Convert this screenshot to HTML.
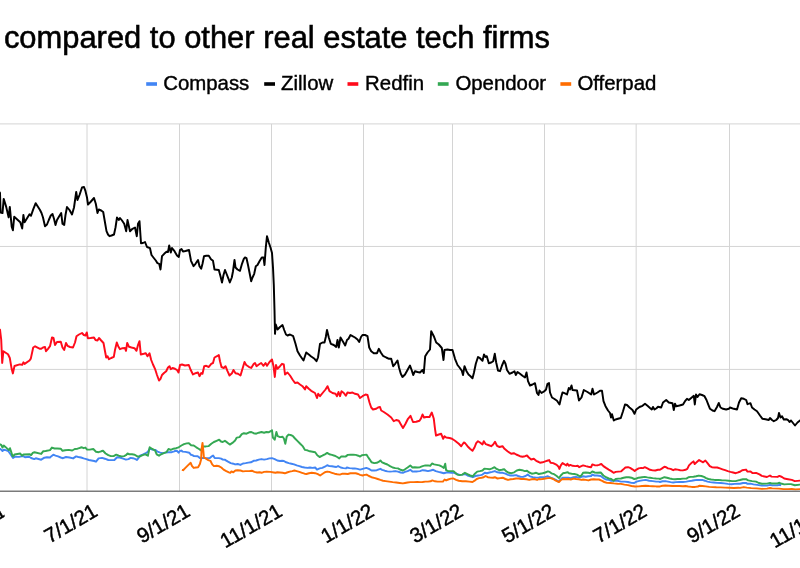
<!DOCTYPE html>
<html lang="en"><head><meta charset="utf-8"><title>Stock chart</title>
<style>
html,body{margin:0;padding:0;background:#fff;}
body{width:800px;height:568px;overflow:hidden;}
svg{display:block;}
text{font-family:"Liberation Sans",sans-serif;fill:#000;}
svg{will-change:transform;}
.grid line{stroke:#d4d4d4;stroke-width:1;}
.series path{fill:none;stroke-width:1.95;stroke-linejoin:round;stroke-linecap:butt;}
</style></head><body>
<svg width="800" height="568" viewBox="0 0 800 568">
<rect width="800" height="568" fill="#fff"/>
<text x="3.9" y="48.4" font-size="30.9" id="title" stroke="#000" stroke-width="0.55">compared to other real estate tech firms</text>
<g id="legend" font-size="20.4" stroke="#000" stroke-width="0.4">
<rect x="146.2" y="82.2" width="10.8" height="3.6" fill="#4285f4" stroke="none"/><text x="163.2" y="90.2">Compass</text>
<rect x="264.2" y="82.2" width="10.8" height="3.6" fill="#000000" stroke="none"/><text x="281.1" y="90.2">Zillow</text>
<rect x="347.5" y="82.2" width="10.8" height="3.6" fill="#ff0b1b" stroke="none"/><text x="365.1" y="90.2">Redfin</text>
<rect x="437.8" y="82.2" width="10.8" height="3.6" fill="#34a853" stroke="none"/><text x="455.4" y="90.2">Opendoor</text>
<rect x="560.4" y="82.2" width="10.8" height="3.6" fill="#ff6d01" stroke="none"/><text x="577.4" y="90.2">Offerpad</text>
</g>
<g class="grid">
<line x1="87" y1="123.9" x2="87" y2="491.2"/>
<line x1="179.5" y1="123.9" x2="179.5" y2="491.2"/>
<line x1="271.5" y1="123.9" x2="271.5" y2="491.2"/>
<line x1="363.5" y1="123.9" x2="363.5" y2="491.2"/>
<line x1="452.5" y1="123.9" x2="452.5" y2="491.2"/>
<line x1="544.5" y1="123.9" x2="544.5" y2="491.2"/>
<line x1="636.15" y1="123.9" x2="636.15" y2="491.2"/>
<line x1="729.5" y1="123.9" x2="729.5" y2="491.2"/>
<line x1="0" y1="123.9" x2="800" y2="123.9"/>
<line x1="0" y1="246.45" x2="800" y2="246.45"/>
<line x1="0" y1="369.4" x2="800" y2="369.4"/>
</g>
<g class="series">
<path stroke="#4285f4" d="M-2.5,447.8 L0.0,448.8 L1.3,449.7 L2.5,451.0 L3.8,449.7 L5.7,450.1 L8.2,451.0 L10.5,454.2 L13.0,458.0 L14.9,456.7 L19.0,456.9 L23.1,456.1 L25.0,457.2 L29.2,456.7 L31.1,458.0 L34.2,459.1 L35.8,458.3 L41.2,459.7 L44.4,457.7 L46.9,457.3 L50.0,457.5 L51.1,456.4 L53.3,454.7 L55.5,455.6 L58.1,456.4 L60.7,457.5 L63.0,458.2 L66.0,457.0 L69.5,457.5 L73.1,458.4 L76.1,456.4 L78.3,457.0 L81.0,457.5 L83.6,458.4 L86.3,459.1 L88.9,460.0 L91.5,460.5 L94.2,461.0 L96.0,461.7 L98.6,458.4 L102.1,457.9 L104.8,458.7 L108.3,460.0 L110.9,460.1 L114.4,460.0 L117.1,457.3 L119.7,457.5 L123.2,458.7 L125.9,459.6 L128.5,459.1 L130.6,457.9 L132.9,458.2 L135.6,459.1 L137.0,460.0 L138.2,458.4 L140.0,455.7 L142.6,454.7 L145.3,453.5 L147.9,451.7 L149.7,448.7 L152.3,449.6 L155.5,449.9 L157.6,451.7 L160.2,452.6 L162.9,453.1 L165.5,452.6 L168.2,452.2 L171.7,452.2 L174.3,451.3 L175.0,451.0 L177.0,450.8 L178.6,452.7 L179.9,451.0 L181.3,450.6 L182.7,451.6 L185.5,451.9 L189.2,452.7 L190.8,454.7 L192.4,455.1 L194.0,456.1 L197.7,456.3 L200.1,458.1 L203.0,457.9 L204.6,458.1 L207.4,458.3 L209.8,458.1 L211.9,456.3 L213.1,455.5 L214.7,458.1 L218.8,458.1 L221.2,458.6 L222.8,459.6 L225.0,459.7 L225.4,460.1 L228.0,461.7 L230.7,463.1 L233.3,463.7 L235.1,464.4 L237.7,464.0 L240.4,464.9 L243.0,463.5 L245.6,463.1 L248.3,462.6 L250.9,462.3 L253.6,460.8 L256.2,460.5 L258.8,459.6 L261.5,459.1 L264.1,459.6 L266.8,459.1 L269.4,458.4 L272.0,458.2 L274.7,459.1 L277.3,460.5 L280.0,461.0 L282.1,460.8 L283.9,461.0 L286.2,462.3 L288.8,463.1 L291.4,463.7 L294.1,464.4 L296.7,465.4 L299.4,466.1 L302.0,467.0 L304.6,467.5 L307.3,467.9 L309.9,467.5 L312.6,467.9 L315.2,467.5 L317.0,469.6 L319.6,468.4 L322.3,467.9 L324.9,466.7 L327.2,465.2 L329.3,466.1 L331.9,466.3 L334.6,466.7 L336.3,467.0 L338.1,466.1 L340.7,467.5 L343.4,468.1 L346.0,468.4 L346.9,467.5 L349.5,468.1 L352.2,468.4 L354.8,468.4 L357.5,468.9 L360.1,469.6 L362.7,468.9 L366.3,467.9 L368.9,468.9 L371.5,470.5 L374.2,470.5 L376.8,470.2 L378.9,469.3 L380.4,468.8 L382.1,469.8 L384.8,470.7 L387.4,471.4 L390.0,471.6 L392.7,471.4 L395.3,471.1 L398.0,471.6 L400.6,472.5 L402.9,472.8 L405.0,471.9 L407.6,471.1 L410.3,469.8 L412.4,471.6 L414.7,471.4 L417.3,471.4 L420.0,471.1 L422.6,470.2 L425.3,470.5 L427.9,471.1 L430.6,470.5 L433.2,469.8 L435.8,471.1 L438.5,471.9 L441.1,472.5 L443.8,473.2 L446.4,472.5 L449.0,472.5 L451.7,472.8 L454.3,472.8 L457.0,474.0 L459.6,474.9 L462.3,474.6 L464.9,474.0 L467.5,475.5 L470.2,476.3 L472.8,477.2 L475.5,476.0 L478.1,475.5 L480.7,475.1 L482.5,474.6 L484.8,472.8 L486.9,473.3 L489.5,472.5 L492.2,471.9 L494.8,471.1 L497.5,472.3 L500.1,472.8 L502.7,472.8 L505.4,473.7 L508.0,474.9 L510.7,475.5 L513.3,475.5 L516.0,475.1 L518.2,476.0 L520.4,476.7 L523.0,476.9 L525.6,476.0 L527.7,474.6 L530.0,476.3 L532.7,477.2 L536.2,477.6 L538.8,477.6 L540.0,477.2 L542.6,477.2 L545.3,476.9 L547.9,476.3 L550.6,477.6 L553.2,478.6 L555.8,479.9 L558.5,481.6 L560.2,479.9 L562.5,477.7 L565.5,477.7 L568.2,477.7 L570.8,478.1 L573.5,477.2 L576.1,476.9 L578.7,477.6 L580.8,477.2 L583.1,476.3 L585.8,476.7 L588.4,476.3 L591.1,476.0 L592.3,474.6 L594.6,475.5 L597.2,475.5 L600.7,476.0 L603.4,478.1 L606.0,479.5 L608.7,479.9 L611.3,480.7 L613.9,480.7 L617.5,480.7 L621.0,481.6 L624.5,481.6 L628.0,482.0 L631.5,482.9 L634.2,483.0 L636.5,481.6 L639.5,480.9 L642.1,480.4 L645.6,479.9 L649.2,480.7 L652.7,481.1 L656.2,481.6 L658.8,481.6 L660.0,482.0 L662.6,481.3 L665.3,481.1 L667.9,481.6 L670.6,482.1 L673.2,482.5 L675.8,482.1 L679.4,482.0 L682.9,482.0 L686.4,481.6 L689.0,481.1 L691.7,480.7 L694.3,480.2 L697.0,479.9 L699.6,479.9 L702.3,479.9 L704.9,480.7 L707.5,481.6 L710.2,482.1 L713.7,482.5 L717.2,482.9 L720.7,483.0 L724.3,483.4 L727.8,483.9 L731.3,484.3 L734.8,483.9 L738.3,483.7 L740.0,483.8 L743.0,483.0 L746.0,482.9 L747.5,483.8 L750.5,483.6 L753.5,484.4 L757.2,484.9 L761.8,485.6 L767.0,485.6 L770.0,484.9 L772.2,485.4 L777.5,485.2 L779.8,484.9 L781.2,485.2"/>
<path stroke="#000000" d="M-3.7,188.5 L0.0,192.8 L0.6,212.5 L2.5,213.1 L3.7,198.9 L6.2,206.9 L8.6,217.4 L9.8,206.9 L11.7,226.6 L12.9,230.3 L14.2,216.8 L20.3,222.3 L22.2,228.5 L23.4,214.9 L24.6,222.3 L29.5,214.3 L31.0,215.8 L33.2,209.4 L35.7,203.2 L40.0,210.0 L41.5,213.0 L43.0,217.5 L45.0,226.2 L47.0,224.5 L48.8,220.0 L50.8,215.5 L52.5,214.0 L54.0,218.8 L55.5,225.0 L57.0,220.0 L59.2,216.2 L61.2,213.0 L62.5,223.8 L64.2,225.0 L65.5,215.0 L67.0,207.0 L69.5,210.0 L72.0,214.5 L74.0,207.5 L76.2,192.0 L77.5,200.0 L79.5,195.0 L82.0,187.5 L84.0,187.0 L85.5,191.2 L87.0,197.5 L88.0,204.5 L90.5,202.0 L94.0,198.0 L95.8,203.8 L97.5,213.0 L98.8,209.5 L101.2,210.5 L103.2,212.0 L105.0,222.5 L106.5,231.2 L108.0,234.5 L109.5,236.2 L111.5,235.5 L114.0,234.5 L115.5,227.5 L117.0,217.5 L118.8,220.0 L120.0,218.0 L122.0,220.5 L124.2,223.8 L126.2,231.2 L127.5,220.0 L130.0,231.2 L132.5,228.8 L135.0,227.5 L136.8,236.2 L138.0,223.8 L139.5,221.2 L141.0,243.2 L143.0,243.0 L145.0,242.0 L147.0,247.0 L150.0,248.2 L151.5,255.0 L153.8,258.0 L155.8,260.5 L157.5,263.2 L159.2,263.8 L160.5,269.5 L162.0,256.2 L164.2,253.8 L166.5,251.8 L168.0,252.0 L169.2,245.5 L170.8,252.5 L172.0,248.0 L174.5,251.2 L177.0,255.5 L178.8,257.0 L180.0,250.0 L181.5,249.0 L183.0,251.5 L185.5,251.0 L189.0,250.0 L191.0,260.8 L193.5,266.2 L195.5,263.8 L198.0,260.0 L199.5,266.2 L201.2,268.8 L202.5,263.8 L204.0,256.2 L206.2,255.8 L208.8,255.8 L211.0,259.2 L213.0,260.8 L214.5,269.5 L218.8,270.0 L220.5,276.2 L222.0,282.5 L223.5,275.0 L225.0,270.0 L227.0,275.0 L228.5,278.8 L229.8,282.5 L231.8,277.5 L233.0,271.2 L234.5,260.0 L235.5,267.5 L237.5,269.5 L240.0,270.8 L242.0,263.8 L243.8,258.8 L245.0,257.5 L246.5,258.2 L248.0,265.0 L249.5,272.5 L251.2,281.2 L252.5,277.5 L254.2,273.8 L255.8,266.2 L257.5,265.0 L259.5,261.2 L261.8,257.5 L263.5,257.5 L264.5,265.0 L265.8,247.5 L267.0,236.2 L268.8,242.5 L270.5,247.5 L272.0,253.0 L273.0,267.5 L273.8,285.0 L274.5,310.0 L275.0,333.8 L275.8,324.5 L277.5,329.5 L280.0,327.0 L282.5,325.0 L284.2,330.0 L286.0,334.5 L287.5,335.5 L290.0,334.5 L293.2,336.2 L295.5,343.8 L297.5,351.2 L300.0,355.5 L303.5,360.5 L306.2,352.5 L308.8,354.5 L311.2,356.5 L314.5,358.8 L316.5,361.2 L318.0,357.5 L320.0,343.8 L322.5,342.5 L324.5,342.5 L325.8,337.0 L327.0,330.0 L328.8,337.5 L330.8,343.8 L333.8,345.0 L336.2,347.0 L337.5,340.0 L338.8,347.5 L340.5,337.5 L343.2,342.0 L345.2,345.5 L347.0,340.0 L348.5,338.8 L350.5,335.0 L352.5,336.2 L355.0,337.5 L357.5,339.5 L359.2,342.0 L361.0,337.0 L362.5,335.0 L365.0,335.0 L367.5,336.2 L369.2,347.5 L371.2,351.2 L373.8,353.2 L377.0,353.2 L378.8,348.8 L380.8,352.5 L383.0,355.8 L386.2,357.5 L389.0,358.8 L391.2,358.8 L393.2,366.2 L395.2,363.8 L397.5,360.5 L399.0,367.5 L400.8,373.8 L402.5,377.0 L405.0,374.5 L407.5,370.0 L410.0,365.5 L411.8,370.5 L413.2,375.0 L415.0,371.2 L417.5,372.0 L420.0,372.5 L422.5,370.0 L423.8,373.0 L425.2,356.2 L427.5,352.5 L430.0,349.5 L431.2,331.2 L433.8,336.2 L436.2,342.5 L438.8,344.5 L441.8,348.0 L443.5,360.0 L444.5,350.0 L447.5,349.5 L450.0,350.0 L452.5,350.0 L455.0,358.8 L457.5,365.0 L459.5,367.5 L461.8,370.8 L463.0,375.0 L464.5,366.2 L466.5,371.2 L468.5,374.5 L470.5,376.2 L472.5,378.2 L474.0,372.5 L475.8,363.8 L478.0,357.0 L480.0,358.2 L482.5,360.8 L484.0,354.5 L485.5,357.0 L486.8,356.2 L488.8,363.2 L491.2,362.5 L493.2,361.2 L494.8,353.8 L496.2,362.5 L498.0,370.5 L500.0,371.2 L502.0,365.5 L504.0,360.8 L505.5,363.8 L507.0,370.0 L509.5,373.8 L512.5,372.5 L514.5,371.2 L515.8,375.0 L517.5,372.0 L520.0,373.8 L522.5,375.8 L525.0,377.5 L526.5,372.5 L528.0,381.2 L530.0,385.5 L532.5,384.5 L535.0,383.2 L537.0,393.0 L538.5,395.0 L539.5,390.5 L541.5,393.0 L544.5,391.2 L546.0,389.5 L547.5,383.8 L549.0,383.0 L550.0,392.5 L552.0,397.5 L554.5,399.0 L557.0,400.8 L559.5,404.5 L561.2,397.0 L562.5,392.5 L564.5,393.2 L567.0,394.5 L568.8,388.0 L570.0,389.5 L571.5,385.5 L572.5,390.0 L577.0,390.5 L579.0,400.5 L581.5,397.5 L583.8,390.0 L587.5,392.0 L591.2,394.5 L592.5,388.8 L594.0,394.5 L597.5,392.5 L600.0,390.8 L602.0,390.8 L603.5,401.2 L605.5,406.2 L608.0,410.5 L610.0,413.0 L611.0,417.5 L612.0,414.2 L613.8,420.5 L615.5,419.5 L618.0,418.8 L620.8,418.0 L623.0,411.2 L625.0,404.5 L627.0,405.0 L629.5,407.5 L632.5,410.0 L634.5,413.8 L636.2,409.5 L639.5,407.0 L642.5,405.8 L645.0,403.8 L647.5,405.8 L650.0,408.0 L651.8,409.5 L653.0,407.0 L654.5,409.5 L656.5,408.2 L658.0,406.8 L661.2,407.5 L663.0,402.5 L666.2,400.0 L668.8,402.5 L672.5,403.2 L673.8,410.0 L675.0,403.8 L676.2,406.2 L679.5,405.5 L683.0,404.5 L685.0,401.2 L687.0,398.8 L688.8,400.0 L691.2,398.0 L693.8,395.8 L694.8,404.5 L696.0,394.5 L697.5,397.0 L699.5,394.2 L702.0,395.0 L704.5,396.2 L706.5,400.0 L708.0,403.8 L710.0,408.8 L712.5,410.5 L714.5,411.2 L717.0,407.0 L718.8,403.0 L720.5,407.5 L723.0,408.8 L726.2,409.5 L728.8,408.8 L730.0,407.5 L733.8,408.8 L737.0,409.5 L739.0,402.5 L741.2,398.2 L743.8,398.8 L746.2,400.0 L747.5,404.2 L750.5,403.2 L752.0,407.5 L754.5,409.5 L757.0,411.2 L760.0,415.5 L762.5,418.8 L765.5,419.2 L768.8,420.0 L770.0,418.0 L772.0,420.0 L773.8,421.2 L776.2,420.0 L778.0,418.0 L779.0,413.0 L780.5,417.5 L782.0,416.2 L783.8,419.5 L786.2,419.2 L788.0,420.0 L789.5,422.0 L791.0,420.5 L793.0,423.0 L795.0,425.5 L797.5,422.5 L800.0,420.5 L802.5,419.5"/>
<path stroke="#ff0b1b" d="M-3.7,328.5 L0.0,329.7 L1.2,339.5 L2.2,362.9 L3.4,351.2 L8.0,354.3 L9.8,358.0 L11.7,369.1 L12.9,373.4 L14.5,366.0 L19.7,364.4 L22.2,364.8 L23.4,362.3 L24.6,363.9 L29.5,360.5 L30.8,358.6 L33.2,347.5 L35.1,346.3 L40.0,348.8 L41.2,348.8 L43.0,347.5 L45.0,347.0 L46.0,351.2 L48.0,348.8 L50.0,346.2 L52.0,337.5 L53.5,338.0 L55.0,345.0 L57.0,342.0 L60.8,341.8 L62.5,347.5 L64.2,350.0 L66.0,343.0 L67.5,345.8 L70.0,347.0 L73.0,347.5 L75.0,342.5 L76.5,336.2 L79.0,334.5 L82.0,333.0 L83.8,335.0 L85.5,335.5 L86.8,332.5 L87.8,338.2 L90.5,338.0 L94.0,337.5 L95.5,340.0 L97.5,340.5 L99.0,338.0 L101.2,340.5 L103.5,343.0 L105.0,351.2 L106.2,357.5 L107.5,356.2 L109.0,359.2 L111.2,358.0 L113.8,356.8 L115.0,350.0 L116.8,342.5 L118.2,346.2 L120.0,349.2 L122.5,348.2 L125.0,348.0 L126.0,350.8 L127.2,343.0 L129.0,346.8 L131.5,347.5 L134.5,348.2 L136.5,350.8 L138.0,345.0 L139.5,341.2 L140.8,354.5 L143.8,353.8 L145.8,353.2 L147.5,356.2 L149.5,353.2 L151.2,360.0 L153.0,364.5 L155.0,368.8 L157.0,375.0 L159.0,380.5 L160.5,378.8 L162.0,375.0 L164.0,373.0 L166.2,371.2 L168.0,367.5 L169.5,366.2 L170.8,369.2 L172.5,368.0 L175.0,368.8 L177.0,370.0 L178.5,372.5 L180.0,365.0 L182.0,364.5 L185.0,365.5 L188.8,365.0 L190.5,369.5 L193.0,374.5 L195.5,373.2 L198.0,372.5 L199.5,376.2 L201.2,373.0 L202.5,373.8 L204.2,366.2 L206.2,365.8 L208.8,367.0 L211.2,363.8 L213.0,363.0 L214.5,357.5 L217.0,356.2 L218.8,355.0 L220.0,361.2 L221.5,367.0 L223.8,368.0 L225.5,366.2 L227.5,371.2 L229.5,375.5 L232.0,373.2 L233.5,370.0 L235.5,373.2 L238.0,373.8 L240.5,375.5 L242.5,368.8 L244.5,362.0 L246.2,365.0 L248.8,366.8 L251.2,368.0 L253.8,363.8 L255.0,363.0 L256.5,366.2 L258.8,364.5 L261.2,363.0 L263.5,365.8 L265.5,363.0 L267.0,365.8 L269.5,362.0 L272.0,359.5 L273.5,366.2 L274.8,377.0 L276.0,365.0 L277.5,368.8 L280.0,366.2 L282.0,363.8 L283.8,364.5 L285.0,374.5 L287.5,372.5 L290.0,375.5 L292.5,379.5 L295.0,383.0 L297.5,382.5 L300.0,384.5 L302.5,386.2 L305.0,389.5 L306.2,386.2 L308.8,388.8 L311.2,390.8 L315.0,393.0 L317.0,398.0 L318.2,393.8 L320.0,396.2 L323.0,392.5 L325.5,389.5 L327.5,386.2 L329.5,391.2 L332.5,393.0 L335.5,393.8 L337.0,396.2 L338.5,392.0 L340.0,396.2 L341.5,391.2 L343.8,393.0 L345.8,395.8 L347.5,392.5 L350.0,393.0 L352.5,392.5 L355.0,393.8 L358.0,394.5 L360.0,398.0 L362.5,396.2 L365.5,394.5 L367.5,395.0 L369.5,402.5 L371.2,407.5 L373.0,409.5 L376.2,408.8 L378.0,407.5 L380.0,407.0 L381.2,410.5 L383.8,412.0 L387.5,414.5 L391.2,417.5 L393.8,421.2 L396.2,420.0 L398.8,420.8 L401.2,425.0 L403.0,428.0 L405.5,423.8 L408.0,418.8 L410.5,415.8 L413.0,422.0 L416.2,421.8 L419.5,420.8 L420.8,418.8 L422.5,414.5 L424.0,417.5 L426.2,417.0 L429.5,417.0 L431.8,412.5 L433.8,418.8 L435.0,428.8 L436.0,435.5 L438.8,434.5 L441.2,433.8 L443.2,438.8 L444.5,436.2 L446.2,437.5 L449.5,438.0 L452.0,438.8 L455.0,440.8 L458.8,443.8 L461.2,446.2 L463.8,442.5 L465.0,443.0 L467.5,446.2 L470.0,448.8 L472.5,450.8 L474.5,447.5 L476.2,443.2 L478.0,441.2 L480.0,442.5 L482.5,444.5 L483.8,441.2 L485.8,444.2 L488.2,445.0 L491.2,446.2 L493.2,444.5 L495.0,441.8 L497.0,445.8 L499.5,447.0 L502.5,446.2 L504.5,448.8 L507.5,451.2 L511.2,453.8 L513.8,453.2 L516.2,454.5 L520.0,456.2 L522.5,456.8 L525.0,456.2 L527.0,455.5 L528.8,457.5 L531.2,459.5 L533.8,458.8 L536.2,460.8 L538.8,462.0 L540.0,462.8 L542.6,462.3 L545.3,461.4 L547.9,460.5 L549.2,460.1 L550.6,462.8 L553.2,463.1 L556.7,464.9 L558.5,466.7 L559.4,468.9 L560.8,465.4 L562.5,463.1 L564.6,464.4 L566.4,465.4 L567.3,463.7 L569.0,465.8 L570.3,464.9 L572.6,465.8 L575.2,466.1 L577.9,465.8 L579.1,467.2 L580.8,466.3 L583.1,465.4 L585.8,466.1 L588.4,466.7 L591.1,467.2 L592.3,464.4 L594.6,465.2 L597.2,465.4 L599.0,464.9 L601.3,464.0 L603.4,466.1 L606.0,467.9 L608.7,469.6 L611.3,471.1 L613.6,472.8 L615.7,471.9 L618.3,471.6 L621.0,471.4 L623.1,469.6 L625.4,467.5 L628.0,467.2 L630.1,467.9 L632.4,469.3 L634.7,471.1 L636.5,469.6 L638.6,468.4 L641.2,467.9 L643.0,468.1 L644.8,467.2 L647.4,468.4 L650.0,469.8 L652.7,470.4 L655.3,470.5 L658.0,469.8 L660.0,469.8 L662.1,468.4 L664.4,466.7 L666.2,467.2 L667.9,468.4 L670.6,468.9 L673.2,470.2 L675.0,469.3 L677.6,469.6 L680.2,470.2 L682.9,470.4 L685.5,469.8 L687.3,468.9 L689.0,465.4 L691.3,463.1 L693.5,461.4 L694.7,464.0 L696.6,462.3 L699.1,460.1 L701.4,461.4 L703.1,462.3 L705.4,460.5 L707.5,463.1 L709.8,466.1 L711.9,467.2 L714.6,467.5 L717.2,467.5 L719.9,468.4 L722.5,469.3 L725.1,470.2 L727.8,471.1 L730.4,471.9 L733.1,472.5 L735.7,473.2 L738.3,472.3 L740.0,471.8 L742.2,470.2 L746.0,469.6 L747.5,471.6 L750.5,471.4 L752.4,473.1 L756.1,472.9 L759.5,474.4 L761.8,475.9 L767.0,477.0 L770.0,475.5 L771.5,476.6 L777.5,476.9 L779.4,475.9 L782.0,477.0 L784.2,478.5 L788.0,479.2 L791.8,479.9 L794.8,481.1 L800.0,480.6 L804.5,480.3"/>
<path stroke="#34a853" d="M-2.5,443.4 L0.0,444.4 L1.3,445.0 L2.5,447.5 L3.8,445.6 L5.4,446.9 L8.9,450.1 L10.0,448.2 L11.1,451.6 L12.4,455.8 L13.0,456.4 L14.6,454.5 L20.3,453.5 L21.9,455.8 L23.4,454.5 L29.8,454.2 L31.1,455.1 L33.0,452.6 L34.5,452.3 L41.2,453.9 L43.1,451.3 L45.6,451.0 L50.0,450.1 L51.9,447.6 L54.6,448.5 L57.2,448.5 L60.7,448.7 L62.5,450.8 L65.1,450.3 L68.7,449.9 L72.2,450.5 L74.8,449.0 L77.5,448.7 L80.1,447.8 L81.9,447.3 L83.6,448.2 L85.4,447.6 L87.1,449.6 L89.8,449.6 L93.3,449.0 L96.0,451.7 L98.6,452.2 L101.2,451.3 L103.0,450.8 L105.6,453.5 L108.3,455.2 L110.9,456.1 L113.6,456.1 L116.2,454.7 L118.8,455.7 L121.5,456.4 L124.1,456.1 L125.9,455.2 L127.6,453.5 L129.4,454.3 L132.0,454.3 L134.7,454.7 L137.3,456.4 L140.0,456.4 L142.6,455.2 L145.3,454.3 L147.9,455.7 L149.7,447.3 L152.3,449.0 L155.0,450.3 L156.7,454.3 L159.0,455.7 L161.1,454.3 L163.8,453.1 L166.4,452.2 L168.5,449.0 L170.8,449.9 L173.5,448.7 L176.1,448.2 L178.7,447.3 L181.4,445.5 L184.0,444.1 L186.7,443.4 L188.9,443.2 L191.1,445.2 L193.7,445.5 L196.3,447.3 L199.0,449.0 L200.7,450.3 L203.4,446.4 L206.0,446.4 L208.7,446.1 L211.3,443.8 L213.9,442.0 L216.6,440.8 L219.2,439.7 L221.0,441.5 L222.7,442.0 L224.9,440.8 L227.1,442.4 L229.8,444.6 L232.4,442.9 L235.1,440.6 L236.8,437.6 L239.5,437.1 L241.8,434.1 L243.9,433.2 L246.5,433.7 L249.2,432.3 L251.3,432.0 L253.6,433.2 L256.2,433.7 L258.8,432.7 L261.5,432.0 L264.1,432.7 L266.4,432.0 L268.5,432.3 L271.2,430.9 L272.0,430.2 L272.9,437.6 L274.7,439.7 L276.4,432.0 L277.7,436.2 L280.0,437.1 L282.6,436.7 L283.9,438.5 L285.3,443.8 L286.7,436.7 L288.5,434.6 L290.6,435.0 L292.7,435.8 L295.0,438.5 L297.6,441.1 L300.2,443.8 L302.9,446.4 L305.0,449.9 L307.3,450.3 L309.9,451.3 L312.6,451.7 L315.2,452.2 L317.3,455.2 L319.6,457.0 L322.3,455.7 L324.9,454.3 L327.2,452.9 L329.3,454.3 L331.9,454.9 L334.6,455.7 L337.2,457.0 L339.3,458.4 L341.3,456.4 L343.4,456.4 L345.5,456.6 L347.8,454.9 L350.4,454.7 L353.1,454.7 L355.7,454.9 L358.3,455.7 L360.1,456.6 L361.9,455.2 L364.5,454.9 L366.6,454.7 L368.0,457.0 L369.8,459.6 L371.5,462.3 L374.2,463.1 L376.8,462.8 L378.6,461.9 L380.4,460.5 L382.1,462.3 L384.8,463.5 L387.4,464.5 L390.0,466.1 L392.7,467.5 L395.3,468.1 L398.0,468.4 L400.6,469.8 L402.9,470.5 L405.0,469.3 L407.6,467.5 L410.3,465.4 L412.4,467.5 L414.7,467.2 L417.3,467.5 L420.0,467.2 L422.6,466.1 L425.3,465.4 L427.9,465.4 L430.2,465.8 L432.0,463.5 L434.1,464.4 L436.7,464.9 L439.4,465.4 L442.0,466.7 L443.8,467.9 L445.2,463.7 L446.1,470.2 L448.2,471.1 L450.8,471.1 L453.5,471.1 L455.2,472.8 L457.3,474.6 L459.6,475.1 L462.3,474.6 L464.9,472.8 L467.5,474.2 L470.2,475.5 L472.8,476.3 L474.9,473.7 L477.2,471.6 L479.9,471.1 L482.5,470.5 L484.3,468.8 L486.9,468.9 L489.5,469.3 L492.2,468.4 L494.5,467.2 L496.6,468.9 L499.2,470.2 L501.9,469.8 L504.2,469.3 L506.3,471.4 L508.9,472.8 L511.5,473.2 L514.2,472.3 L516.8,470.5 L519.5,469.8 L522.1,470.2 L524.8,471.1 L527.0,470.7 L529.2,472.5 L531.8,473.7 L534.4,473.3 L536.2,472.8 L538.8,474.0 L540.0,473.7 L542.6,473.3 L545.3,472.5 L547.9,471.4 L549.7,471.9 L551.4,473.3 L554.1,474.2 L556.7,476.0 L559.0,478.1 L560.8,475.5 L562.9,473.3 L565.5,472.8 L567.8,472.3 L569.0,473.3 L571.7,473.7 L574.3,474.0 L577.0,474.6 L579.6,476.3 L581.4,475.5 L583.1,472.8 L585.8,472.5 L588.4,472.8 L590.2,473.3 L592.3,471.4 L594.6,472.5 L597.2,472.8 L600.7,472.5 L603.4,475.5 L606.0,477.2 L608.7,478.5 L611.3,479.0 L613.6,480.7 L615.7,479.0 L618.3,478.6 L621.0,478.5 L623.6,477.7 L626.3,477.2 L628.9,477.2 L631.5,477.7 L634.2,479.0 L636.5,478.5 L638.6,477.7 L642.1,477.2 L644.8,476.9 L647.4,477.4 L650.0,477.7 L652.7,478.1 L656.2,478.5 L658.8,478.6 L660.0,479.0 L662.1,478.1 L664.4,477.2 L667.0,477.7 L669.7,478.5 L672.3,479.0 L675.0,479.3 L677.6,479.0 L680.2,479.0 L682.9,478.6 L686.4,478.6 L688.5,477.2 L690.8,476.9 L693.5,476.7 L696.1,476.3 L698.7,475.6 L701.4,476.0 L704.0,476.9 L706.1,478.1 L708.4,479.0 L711.1,479.5 L714.6,479.9 L718.1,479.9 L721.6,480.2 L725.1,480.4 L728.7,480.7 L732.2,481.1 L735.7,481.1 L738.3,480.4 L740.0,480.0 L743.0,479.2 L746.0,479.1 L748.2,480.4 L752.0,481.1 L756.1,481.6 L758.8,483.0 L761.8,483.8 L767.0,483.6 L770.0,482.9 L771.5,483.4 L777.5,483.4 L779.4,482.8 L782.0,483.8 L784.2,484.4 L788.0,484.1 L791.0,484.1 L794.8,485.2 L800.0,484.6 L804.5,484.5"/>
<path stroke="#ff6d01" d="M181.9,469.8 L183.1,470.2 L185.4,467.9 L187.9,465.4 L190.7,462.8 L191.9,465.8 L193.7,467.9 L196.0,467.5 L198.1,467.2 L199.9,464.0 L201.1,459.6 L201.6,449.0 L202.5,442.9 L203.4,451.7 L203.9,457.5 L206.0,458.7 L208.3,460.1 L210.4,460.8 L212.2,464.4 L213.9,466.1 L216.6,465.8 L219.2,466.3 L221.3,467.5 L223.6,469.6 L226.3,471.1 L228.9,472.3 L230.3,472.8 L231.5,471.4 L233.3,472.3 L235.4,470.5 L237.7,470.2 L240.4,470.5 L243.0,471.4 L245.6,471.1 L249.2,471.1 L251.8,470.7 L254.4,471.9 L257.1,472.5 L259.7,472.3 L261.5,472.8 L264.1,471.9 L266.8,471.6 L270.3,471.9 L273.8,472.5 L275.6,472.8 L277.3,472.3 L280.0,472.5 L282.6,472.8 L284.9,473.3 L287.0,472.5 L289.7,471.6 L292.3,471.1 L294.4,470.5 L296.7,471.1 L299.4,471.9 L302.0,472.8 L304.6,473.7 L306.4,474.0 L309.0,473.2 L311.7,472.8 L315.2,473.2 L317.9,474.2 L320.1,475.5 L322.3,474.0 L324.9,472.3 L327.2,471.6 L329.3,471.9 L331.9,472.8 L334.6,473.7 L337.2,474.2 L339.9,474.6 L342.5,473.7 L345.1,473.7 L347.8,474.0 L350.4,473.3 L353.1,473.2 L355.7,473.2 L358.3,474.0 L360.1,474.9 L362.7,475.5 L364.5,474.9 L366.6,474.6 L368.9,476.0 L371.5,477.2 L375.1,478.1 L377.7,479.0 L380.4,479.9 L383.0,480.7 L385.6,481.1 L389.2,481.6 L392.7,482.1 L396.2,482.5 L399.7,483.0 L402.9,483.4 L405.0,483.0 L407.6,482.5 L410.3,482.1 L413.8,482.1 L417.3,482.0 L420.0,482.1 L422.6,482.0 L425.3,481.6 L427.9,481.6 L430.6,481.3 L432.3,480.4 L435.0,481.3 L437.6,481.6 L440.2,481.6 L442.9,481.6 L444.6,479.5 L446.1,480.4 L448.2,479.5 L450.8,478.6 L453.5,478.5 L456.1,479.9 L458.7,480.7 L462.3,481.3 L465.8,481.3 L469.3,481.6 L472.5,482.0 L474.6,480.7 L476.7,479.0 L479.0,478.1 L481.6,477.7 L483.7,477.2 L485.5,476.0 L487.8,477.2 L490.4,477.6 L493.1,477.7 L494.8,477.2 L497.5,478.5 L500.1,478.1 L502.7,477.7 L505.4,479.0 L508.0,479.9 L510.7,479.3 L513.3,479.0 L516.0,478.5 L518.6,478.5 L521.2,479.0 L523.9,479.0 L526.5,479.3 L529.2,479.9 L531.8,479.3 L534.4,479.0 L537.1,479.9 L538.8,479.0 L540.0,479.3 L542.6,479.0 L545.3,478.5 L547.9,478.1 L550.6,478.1 L553.2,479.0 L555.8,480.7 L559.0,482.0 L561.1,479.9 L562.9,479.0 L565.5,479.3 L568.2,479.0 L570.8,479.5 L573.5,478.6 L576.1,479.0 L578.7,479.3 L581.4,479.9 L583.1,479.5 L585.8,479.9 L588.4,480.4 L591.1,479.5 L593.7,479.3 L596.3,479.5 L599.0,479.5 L601.6,480.7 L604.3,482.0 L606.9,482.9 L610.4,483.0 L613.9,483.4 L617.5,483.7 L621.0,483.9 L624.5,484.6 L628.0,485.1 L631.5,486.0 L635.1,486.5 L638.6,486.4 L642.1,486.0 L645.6,485.7 L649.2,486.0 L652.7,486.2 L656.2,486.4 L658.8,486.4 L660.0,486.4 L662.6,485.7 L665.3,485.5 L668.8,485.7 L672.3,486.0 L675.8,486.0 L679.4,486.0 L682.9,486.2 L685.5,486.0 L688.2,486.5 L691.7,486.9 L695.2,486.9 L697.9,486.5 L699.6,485.7 L702.3,486.0 L705.8,486.4 L709.3,486.9 L712.8,487.1 L716.3,487.3 L720.7,487.4 L725.1,487.6 L729.5,487.8 L733.9,488.0 L738.3,487.8 L740.0,487.9 L743.8,487.1 L746.8,487.6 L751.2,488.1 L756.5,488.4 L761.8,488.9 L767.0,488.6 L770.0,488.0 L772.2,488.4 L779.0,488.6 L783.5,489.1 L788.0,489.1 L791.8,489.0 L795.5,489.4 L800.0,489.1 L804.5,489.1"/>
</g>
<line x1="0" y1="491.2" x2="800" y2="491.2" stroke="#7a7a7a" stroke-width="1.45"/>
<clipPath id="c0"><rect x="0" y="495" width="4.6" height="73"/></clipPath>
<g id="xlabels" font-size="20.6" text-anchor="end" stroke="#000" stroke-width="0.45">
<g clip-path="url(#c0)"><text transform="translate(7.55,515.0) rotate(-30)">5/1/21</text></g>
<text transform="translate(99.05,515.0) rotate(-30)">7/1/21</text>
<text transform="translate(191.55,515.0) rotate(-30)">9/1/21</text>
<text transform="translate(283.55,515.0) rotate(-30)">11/1/21</text>
<text transform="translate(375.55,515.0) rotate(-30)">1/1/22</text>
<text transform="translate(464.55,515.0) rotate(-30)">3/1/22</text>
<text transform="translate(556.55,515.0) rotate(-30)">5/1/22</text>
<text transform="translate(648.20,515.0) rotate(-30)">7/1/22</text>
<text transform="translate(741.55,515.0) rotate(-30)">9/1/22</text>
<text transform="translate(833.05,515.0) rotate(-30)">11/1/22</text>
</g>
</svg>
</body></html>
